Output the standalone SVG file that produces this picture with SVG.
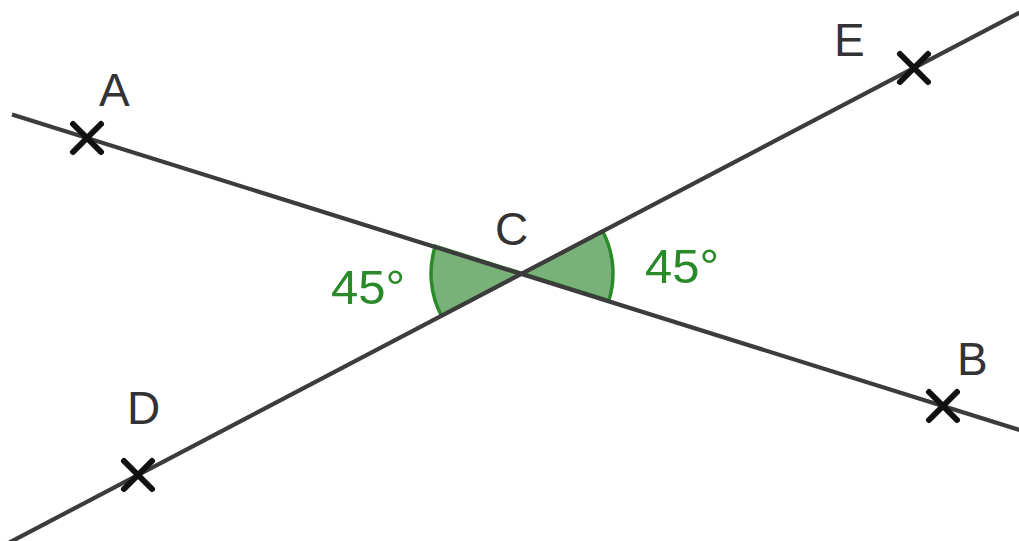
<svg xmlns="http://www.w3.org/2000/svg" width="1019" height="541" viewBox="0 0 1019 541">
<style>
.ln{stroke:#3c3c3c;stroke-width:4.2;fill:none;stroke-linecap:butt}
.ang{fill:#79b279;stroke:#2a8a2a;stroke-width:3.5;stroke-linejoin:miter}
.pt{stroke:#111;stroke-width:6;stroke-linecap:round}
.lbl{font-family:"Liberation Sans",Arial,sans-serif;font-size:46px;fill:#333}
.deg{font-family:"Liberation Sans",Arial,sans-serif;font-size:49px;fill:#2a8a2a}
</style>
<rect width="1019" height="541" fill="#fff"/>
<g id="angles">
<path class="ang" d="M522,273.5 L435.2,246.3 A91,91 0 0 0 441.4,315.8 Z"/>
<path class="ang" d="M522,273.5 L602.6,231.2 A91,91 0 0 1 608.8,300.7 Z"/>
</g>
<g id="connectors">
<line class="ln" x1="12" y1="114.5" x2="1025" y2="431.7"/>
<line class="ln" x1="0" y1="547.4" x2="1025" y2="9.8"/>
</g>
<g id="A"><path class="pt" d="M73,124 L101,152 M101,124 L73,152"/><text class="lbl" x="99" y="106">A</text></g>
<g id="B"><path class="pt" d="M929,392 L957,420 M957,392 L929,420"/><text class="lbl" x="957" y="375">B</text></g>
<g id="C"><text class="lbl" x="495" y="245">C</text></g>
<g id="D"><path class="pt" d="M124,461 L152,489 M152,461 L124,489"/><text class="lbl" x="127" y="424">D</text></g>
<g id="E"><path class="pt" d="M900,54 L928,82 M928,54 L900,82"/><text class="lbl" x="834" y="56">E</text></g>
<g id="angle-labels">
<text class="deg" x="331" y="304">45°</text>
<text class="deg" x="645" y="283">45°</text>
</g>
</svg>
